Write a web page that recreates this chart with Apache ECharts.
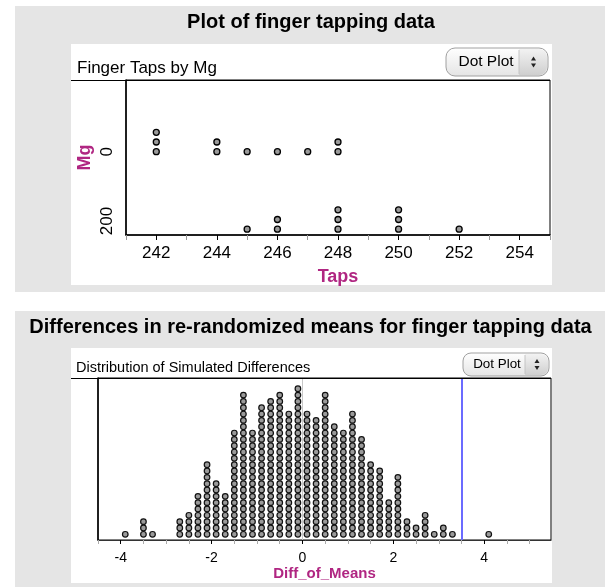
<!DOCTYPE html>
<html>
<head>
<meta charset="utf-8">
<script src="https://cdn.jsdelivr.net/npm/echarts@6/dist/echarts.min.js"></script>
<style>
  html, body { margin: 0; padding: 0; background: #ffffff; }
  #chart { width: 612px; height: 587px; }
</style>
</head>
<body>
<div id="chart"></div>
<script>
// ---------------- data ----------------
const MG_GROUPS = ['0', '200'];
const TAPS_MG0 = [242, 242, 242, 244, 244, 245, 246, 247, 248, 248];
const TAPS_MG200 = [245, 246, 246, 248, 248, 248, 250, 250, 250, 252];
const TOP_X_TICK_LABELS = [242, 244, 246, 248, 250, 252, 254];

const DIFF_VALUES = [-3.9, -3.5, -3.3, -2.7, -2.5, -2.3, -2.1, -1.9, -1.7, -1.5, -1.3, -1.1, -0.9, -0.7, -0.5, -0.3, -0.1,
  0.1, 0.3, 0.5, 0.7, 0.9, 1.1, 1.3, 1.5, 1.7, 1.9, 2.1, 2.3, 2.5, 2.7, 2.9, 3.1, 3.3, 4.1];
const DIFF_COUNTS = [1, 3, 1, 3, 4, 7, 12, 9, 7, 17, 23, 17, 21, 22, 23, 20, 24,
  20, 19, 23, 18, 17, 20, 16, 12, 11, 6, 10, 3, 2, 4, 1, 2, 1, 1];
const BOTTOM_X_TICK_LABELS = [-4, -2, 0, 2, 4];

// ---------------- derived ----------------
const FONT = "'Liberation Sans', Arial, Helvetica, sans-serif";
const MAGENTA = '#b02682';
const GROUP_GAP = 8; // vertical slot offset between the two Mg groups (in dot units)

function stackDots(values, offset) {
  const seen = {};
  return values.map(v => { const k = seen[v] || 0; seen[v] = k + 1; return [v, offset + k]; });
}
const mean = a => a.reduce((s, v) => s + v, 0) / a.length;
const observedDiff = mean(TAPS_MG200) - mean(TAPS_MG0);

const topDots0 = stackDots(TAPS_MG0, GROUP_GAP);
const topDots200 = stackDots(TAPS_MG200, 0);

const diffDots = [];
DIFF_VALUES.forEach((v, i) => { for (let k = 0; k < DIFF_COUNTS[i]; k++) diffDots.push([v, k]); });

const TOP_MIN = 241, TOP_MAX = 255;
const topMinorTicks = [];
for (let v = TOP_MIN; v <= TOP_MAX; v++) if (TOP_X_TICK_LABELS.indexOf(v) < 0) topMinorTicks.push(v);
const BOT_MIN = -4.5, BOT_MAX = 5.47;
const botMinorTicks = [];
for (let v = -4.5; v <= 5.0001; v += 0.5) { const r = Math.round(v * 10) / 10; if (BOTTOM_X_TICK_LABELS.indexOf(r) < 0) botMinorTicks.push(r); }

// ---------------- graphic helpers ----------------
function dotPlotButton(x, y, w, h, fontSize, divX, textX) {
  const r = Math.round(h / 3);
  const ay = y + h / 2;
  const ax = (divX + x + w) / 2;
  return {
    type: 'group', z: 50, silent: true,
    children: [
      { type: 'rect', shape: { x: x, y: y, width: w, height: h, r: r },
        style: { fill: new echarts.graphic.LinearGradient(0, 0, 0, 1, [{ offset: 0, color: '#ffffff' }, { offset: 1, color: '#e4e4e4' }]),
                 stroke: '#a0a0a0', lineWidth: 1 } },
      { type: 'rect', shape: { x: divX, y: y + 1, width: x + w - divX - 1, height: h - 2, r: [0, r - 1, r - 1, 0] },
        style: { fill: new echarts.graphic.LinearGradient(0, 0, 0, 1, [{ offset: 0, color: '#f2f2f2' }, { offset: 1, color: '#cfcfcf' }]) } },
      { type: 'line', shape: { x1: divX, y1: y + 2, x2: divX, y2: y + h - 2 }, style: { stroke: '#c4c4c4', lineWidth: 1 } },
      { type: 'text', style: { x: textX, y: ay, text: 'Dot Plot', font: fontSize + 'px ' + FONT, fill: '#000',
          textAlign: 'center', textVerticalAlign: 'middle' } },
      { type: 'polygon', shape: { points: [[ax - 2.5, ay - 1.5], [ax + 2.5, ay - 1.5], [ax, ay - 5.5]] }, style: { fill: '#222' } },
      { type: 'polygon', shape: { points: [[ax - 2.5, ay + 1.5], [ax + 2.5, ay + 1.5], [ax, ay + 5.5]] }, style: { fill: '#222' } }
    ]
  };
}

const chart = echarts.init(document.getElementById('chart'), null, { renderer: 'canvas' });

const option = {
  backgroundColor: '#ffffff',
  animation: false,
  textStyle: { fontFamily: FONT },
  graphic: [
    // panel backgrounds
    { type: 'rect', z: -10, silent: true, shape: { x: 15, y: 6, width: 590, height: 286 }, style: { fill: '#e5e5e5' } },
    { type: 'rect', z: -10, silent: true, shape: { x: 15, y: 311, width: 590, height: 276 }, style: { fill: '#e5e5e5' } },
    { type: 'rect', z: -9, silent: true, shape: { x: 71, y: 44, width: 481, height: 241 }, style: { fill: '#ffffff' } },
    { type: 'rect', z: -9, silent: true, shape: { x: 71, y: 348, width: 481, height: 235 }, style: { fill: '#ffffff' } },
    // titles
    { type: 'text', z: 10, silent: true, style: { x: 311, y: 22, text: 'Plot of finger tapping data', font: 'bold 20px ' + FONT,
        fill: '#000', textAlign: 'center', textVerticalAlign: 'middle' } },
    { type: 'text', z: 10, silent: true, style: { x: 310.5, y: 327, text: 'Differences in re-randomized means for finger tapping data',
        font: 'bold 20px ' + FONT, fill: '#000', textAlign: 'center', textVerticalAlign: 'middle' } },
    // header texts and lines
    { type: 'text', z: 10, silent: true, style: { x: 77, y: 68, text: 'Finger Taps by Mg', font: '17px ' + FONT, fill: '#000',
        textAlign: 'left', textVerticalAlign: 'middle' } },
    { type: 'line', z: 10, silent: true, shape: { x1: 71, y1: 80.5, x2: 550, y2: 80.5 }, style: { stroke: '#000', lineWidth: 1 } },
    { type: 'text', z: 10, silent: true, style: { x: 76, y: 368, text: 'Distribution of Simulated Differences', font: '14.5px ' + FONT,
        fill: '#000', textAlign: 'left', textVerticalAlign: 'middle' } },
    { type: 'line', z: 10, silent: true, shape: { x1: 71, y1: 378.5, x2: 551, y2: 378.5 }, style: { stroke: '#000', lineWidth: 1 } },
    dotPlotButton(446, 48, 102, 28, 15.5, 519, 486),
    dotPlotButton(463, 353, 86, 23, 13.4, 525, 497)
  ],
  grid: [
    { left: 126, top: 80, width: 424, height: 155, show: true, backgroundColor: 'transparent', borderColor: '#000', borderWidth: 1 },
    { left: 98, top: 378, width: 453, height: 162, show: true, backgroundColor: 'transparent', borderColor: '#000', borderWidth: 1 }
  ],
  xAxis: [
    { type: 'value', gridIndex: 0, position: 'bottom', min: TOP_MIN, max: TOP_MAX,
      axisLine: { show: true, onZero: false, lineStyle: { color: '#000', width: 1.5 } },
      axisTick: { show: true, customValues: TOP_X_TICK_LABELS, length: 5, lineStyle: { color: '#000', width: 1 } },
      axisLabel: { show: true, customValues: TOP_X_TICK_LABELS, fontSize: 17, color: '#000', margin: 10, fontFamily: FONT },
      splitLine: { show: false },
      name: 'Taps', nameLocation: 'middle', nameGap: 33,
      nameTextStyle: { fontSize: 18, fontWeight: 'bold', color: MAGENTA, fontFamily: FONT } },
    { type: 'value', gridIndex: 0, position: 'bottom', min: TOP_MIN, max: TOP_MAX,
      axisLine: { show: false, onZero: false },
      axisTick: { show: true, customValues: topMinorTicks, length: 5, lineStyle: { color: '#999', width: 1 } },
      axisLabel: { show: false }, splitLine: { show: false } },
    { type: 'value', gridIndex: 1, position: 'bottom', min: BOT_MIN, max: BOT_MAX,
      axisLine: { show: true, onZero: false, lineStyle: { color: '#333', width: 1.2 } },
      axisTick: { show: true, customValues: BOTTOM_X_TICK_LABELS, length: 4, lineStyle: { color: '#000', width: 1 } },
      axisLabel: { show: true, customValues: BOTTOM_X_TICK_LABELS, fontSize: 14, color: '#000', margin: 11, fontFamily: FONT },
      splitLine: { show: false },
      name: 'Diff_of_Means', nameLocation: 'middle', nameGap: 26,
      nameTextStyle: { fontSize: 15, fontWeight: 'bold', color: MAGENTA, fontFamily: FONT } },
    { type: 'value', gridIndex: 1, position: 'bottom', min: BOT_MIN, max: BOT_MAX,
      axisLine: { show: false, onZero: false },
      axisTick: { show: true, customValues: botMinorTicks, length: 4, lineStyle: { color: '#aaa', width: 1 } },
      axisLabel: { show: false }, splitLine: { show: false } }
  ],
  yAxis: [
    { type: 'value', gridIndex: 0, position: 'left', min: -0.6, max: 15.4,
      axisLine: { show: true, onZero: false, lineStyle: { color: '#000', width: 1.5 } },
      axisTick: { show: false },
      axisLabel: { show: true, customValues: [GROUP_GAP, 0.85], rotate: 90, fontSize: 17, color: '#000', margin: 10, fontFamily: FONT,
        formatter: v => (v >= GROUP_GAP / 2 ? MG_GROUPS[0] : MG_GROUPS[1]) },
      splitLine: { show: false },
      name: 'Mg', nameLocation: 'middle', nameGap: 32, nameRotate: 90, nameMoveOverlap: false,
      nameTextStyle: { fontSize: 18, fontWeight: 'bold', color: MAGENTA, fontFamily: FONT } },
    { type: 'value', gridIndex: 1, position: 'left', min: -0.9, max: 24.7,
      axisLine: { show: true, onZero: false, lineStyle: { color: '#000', width: 1.5 } },
      axisTick: { show: false }, axisLabel: { show: false }, splitLine: { show: false } }
  ],
  series: [
    { type: 'scatter', name: 'Mg 0', xAxisIndex: 0, yAxisIndex: 0, data: topDots0, symbol: 'circle', symbolSize: 6,
      itemStyle: { color: '#9a9a9a', borderColor: '#000', borderWidth: 1.3, opacity: 1 }, silent: true },
    { type: 'scatter', name: 'Mg 200', xAxisIndex: 0, yAxisIndex: 0, data: topDots200, symbol: 'circle', symbolSize: 6,
      itemStyle: { color: '#9a9a9a', borderColor: '#000', borderWidth: 1.3, opacity: 1 }, silent: true },
    { type: 'scatter', name: 'Diff', xAxisIndex: 2, yAxisIndex: 1, data: diffDots, symbol: 'circle', symbolSize: 5.6,
      itemStyle: { color: '#9a9a9a', borderColor: '#111', borderWidth: 1.2, opacity: 1 }, silent: true,
      markLine: { silent: true, symbol: ['none', 'none'], label: { show: false }, animation: false,
        data: [
          { xAxis: 0, lineStyle: { color: '#c8c8c8', width: 1, type: 'solid' } },
          { xAxis: observedDiff, lineStyle: { color: '#6b6bff', width: 2, type: 'solid' } }
        ] } }
  ]
};
chart.setOption(option);
</script>
</body>
</html>
